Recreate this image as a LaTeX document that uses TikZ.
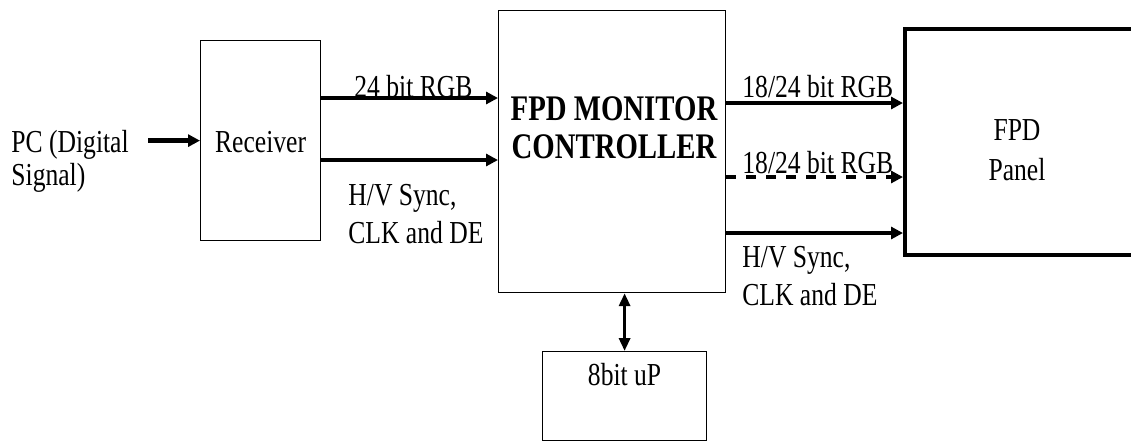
\documentclass[tikz,border=0pt]{standalone}
\usepackage{fontspec}
\setmainfont[FakeStretch=0.8]{Liberation Serif}
\usepackage{tikz}
\usetikzlibrary{arrows.meta, positioning}

\begin{document}
\begin{tikzpicture}[
    x=0.5pt, y=-0.5pt,
    blk/.style={rectangle, draw, line width=0.6pt, inner sep=0pt, anchor=north west},
    lbl/.style={inner sep=0pt, align=left, font=\fontsize{16}{19}\selectfont},
    arr/.style={-{Triangle[length=6pt, width=6pt]}, line width=2.2pt},
    dbl/.style={{Triangle[length=6.5pt, width=5.5pt]}-{Triangle[length=6.5pt, width=5.5pt]}, line width=1.6pt}
]
\useasboundingbox (0,0) rectangle (1131,441);

% blocks
\node[blk, minimum width=60pt, minimum height=100pt] (rcv) at (200,40) {};
\node[blk, minimum width=113.5pt, minimum height=141pt] (ctrl) at (498,10) {};
\node[blk, line width=2pt, minimum width=115pt, minimum height=113pt] (panel) at (903,27) {};
\node[blk, minimum width=82pt, minimum height=44.5pt] (up) at (542,351) {};

% block texts (base = last line)
\node[lbl, anchor=base] (rcvtxt) at (rcv.center |- 0,152) {Receiver};
\node[lbl, anchor=base, align=center, font=\bfseries\fontsize{18}{19}\selectfont] (ctrltxt) at (614,158)
    {FPD MONITOR\\CONTROLLER};
\node[lbl, anchor=base, align=center, font=\fontsize{16}{20}\selectfont] (paneltxt) at (1017,180)
    {FPD\\Panel};
\node[lbl, anchor=base] (uptxt) at (up.center |- 0,385) {8bit uP};
\node[lbl, anchor=base west, font=\fontsize{16}{16.5}\selectfont] (pc) at (11,185)
    {PC (Digital\\Signal)};

% signal labels
\node[lbl, anchor=base west] (rgbin) at (354,97) {24 bit RGB};
\node[lbl, anchor=base west] (syncin) at (348,243) {H/V Sync,\\CLK and DE};
\node[lbl, anchor=base west] (rgbout) at (742,97) {18/24 bit RGB};
\node[lbl, anchor=base west] (rgbout2) at (742,173) {18/24 bit RGB};
\node[lbl, anchor=base west] (syncout) at (742,305) {H/V Sync,\\CLK and DE};

% connectors
\coordinate (pcin) at ([xshift=-26pt]rcv.west);
\coordinate (r1) at ([yshift=-29pt]rcv.north east);
\coordinate (r2) at ([yshift=-60pt]rcv.north east);
\coordinate (c1) at ([yshift=-46.5pt]ctrl.north east);
\coordinate (c2) at ([yshift=-83.5pt]ctrl.north east);
\coordinate (c3) at ([yshift=-111.5pt]ctrl.north east);

\draw[arr] (pcin) -- (rcv.west);
\draw[arr] (r1) -- (r1 -| ctrl.west);
\draw[arr] (r2) -- (r2 -| ctrl.west);
\draw[arr] (c1) -- (c1 -| panel.west);
\draw[arr, dash pattern=on 5pt off 5pt] (c2) -- (c2 -| panel.west);
\draw[arr] (c3) -- (c3 -| panel.west);
\draw[dbl] (up.north) -- (up.north |- ctrl.south);

\end{tikzpicture}
\end{document}
